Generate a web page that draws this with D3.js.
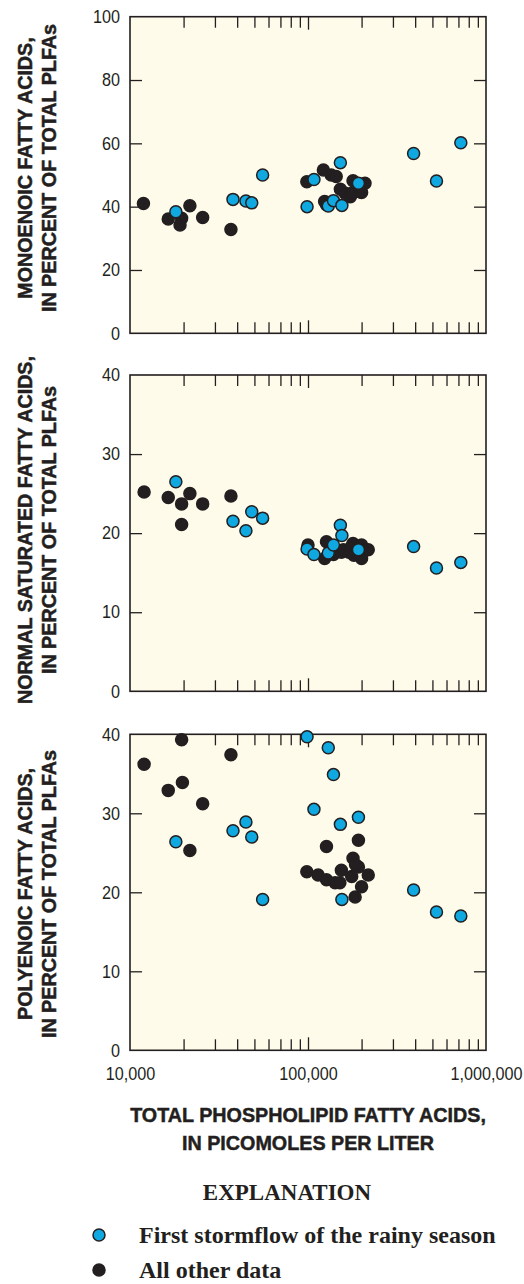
<!DOCTYPE html>
<html>
<head>
<meta charset="utf-8">
<script src="https://cdn.jsdelivr.net/npm/d3@7/dist/d3.min.js"></script>
<style>
  html, body { margin: 0; padding: 0; background: #ffffff; }
  svg { display: block; }
  .tick text { font-family: "Liberation Sans", Arial, sans-serif; font-size: 18px; fill: #231f20; }
  .ytitle, .xtitle { font-family: "Liberation Sans", Arial, sans-serif; font-weight: bold; fill: #231f20; stroke: #231f20; stroke-width: 0.5px; }
  .legend { font-family: "Liberation Serif", "Times New Roman", serif; font-weight: bold; fill: #231f20; }
</style>
</head>
<body>
<script>
// Total PLFA concentration (picomoles per liter) vs. percent composition of PLFAs

// Samples from the first stormflow of the rainy season: [total PLFA, percent]
const stormMono = [
  [18100, 38.4], [37900, 42.3], [44800, 41.8], [48300, 41.2], [55600, 50.0],
  [98800, 40.0], [108000, 48.6], [130000, 40.2], [139000, 41.9], [152000, 53.9],
  [155000, 40.4], [192000, 47.4], [392000, 56.8], [527000, 48.1], [722000, 60.2]
];
const stormSat = [
  [18100, 26.5], [37900, 21.5], [44800, 20.3], [48300, 22.7], [55600, 21.9],
  [98800, 18.0], [108000, 17.3], [130000, 17.5], [139000, 18.5], [152000, 21.0],
  [155000, 19.7], [192000, 17.9], [392000, 18.3], [527000, 15.6], [722000, 16.3]
];
const stormPoly = [
  [18100, 26.4], [37900, 27.8], [44800, 28.9], [48300, 27.0], [55600, 19.1],
  [98800, 39.7], [108000, 30.5], [130000, 38.3], [139000, 34.9], [152000, 28.6],
  [155000, 19.1], [192000, 29.5], [392000, 20.3], [527000, 17.5], [722000, 17.0]
];

// All other samples: [total PLFA, percent]
const otherMono = [
  [11900, 41.0], [16400, 36.1], [19500, 36.3], [19100, 34.2], [21700, 40.3],
  [25600, 36.6], [36900, 32.8], [98500, 47.9], [122000, 51.6], [135000, 50.0],
  [144000, 49.5], [124000, 41.6], [127000, 40.6], [152000, 45.5], [162000, 44.2],
  [173000, 43.1], [176000, 44.2], [179000, 48.2], [196000, 44.7], [209000, 47.4],
  [200000, 44.5]
];
const otherSat = [
  [12000, 25.2], [16400, 24.5], [19500, 23.7], [19500, 21.1], [21700, 25.0],
  [25600, 23.7], [36900, 24.7], [100000, 18.5], [127000, 18.9], [124000, 16.8],
  [139000, 17.3], [154000, 17.6], [158000, 17.9], [170000, 17.6], [179000, 18.7],
  [176000, 18.3], [188000, 18.1], [181000, 17.2], [200000, 18.5], [200000, 16.8],
  [212000, 17.9], [218000, 17.9]
];
const otherPoly = [
  [12000, 36.2], [16400, 32.9], [19500, 39.3], [19700, 33.9], [21700, 25.3],
  [25600, 31.2], [36900, 37.4], [98500, 22.6], [114000, 22.2], [127000, 21.6],
  [142000, 21.2], [151000, 21.2], [127000, 25.8], [154000, 22.8], [179000, 24.3],
  [192000, 23.2], [218000, 22.2], [200000, 20.7], [184000, 19.4], [176000, 22.0],
  [192000, 26.6], [185000, 23.5]
];

// Axis ticks and labels
const xMajorTicks = [1e4, 1e5, 1e6];
const xTickLabels = ["10,000", "100,000", "1,000,000"];
const monoTicks = [0, 20, 40, 60, 80, 100];
const pctTicks = [0, 10, 20, 30, 40];

const panelTitles = [
  ["MONOENOIC FATTY ACIDS,", "IN PERCENT OF TOTAL PLFAs"],
  ["NORMAL SATURATED FATTY ACIDS,", "IN PERCENT OF TOTAL PLFAs"],
  ["POLYENOIC FATTY ACIDS,", "IN PERCENT OF TOTAL PLFAs"]
];
const xTitle = ["TOTAL PHOSPHOLIPID FATTY ACIDS,", "IN PICOMOLES PER LITER"];
const legendTitle = "EXPLANATION";
const legendLabels = ["First stormflow of the rainy season", "All other data"];

// ---- drawing ----
const W = 524, H = 1284;
const INK = "#231f20", BLUE = "#0fa8e0", CREAM = "#fffbea";
const left = 130, right = 486;
const TICK_SX = 0.9;   // horizontal squeeze for a condensed look
const TITLE_SX = 0.94;

const svg = d3.select("body").append("svg").attr("width", W).attr("height", H);

const x = d3.scaleLog().domain([1e4, 1e6]).range([left, right]);
const allLogTicks = [];
for (const dec of [1e4, 1e5]) for (let m = 1; m <= 9; m++) allLogTicks.push(m * dec);
allLogTicks.push(1e6);

const panels = [
  { top: 16.7, bottom: 333.3, max: 100, ticks: monoTicks, storm: stormMono, other: otherMono, titleC: 168 },
  { top: 375, bottom: 691.3, max: 40, ticks: pctTicks, storm: stormSat, other: otherSat, titleC: 530 },
  { top: 734.3, bottom: 1050.3, max: 40, ticks: pctTicks, storm: stormPoly, other: otherPoly, titleC: 894 }
];

panels.forEach((p, i) => {
  const y = d3.scaleLinear().domain([0, p.max]).range([p.bottom, p.top]);
  const g = svg.append("g");

  g.append("rect")
    .attr("x", left).attr("y", p.top)
    .attr("width", right - left).attr("height", p.bottom - p.top)
    .attr("fill", CREAM);

  const inner = p.ticks.filter(t => t > 0 && t < p.max);
  const xInner = allLogTicks.filter(t => t > 1e4 && t < 1e6);
  const isLast = i === panels.length - 1;

  // bottom axis (ticks pointing inward)
  const bottomAxis = d3.axisBottom(x)
    .tickValues(isLast ? allLogTicks : xInner)
    .tickSizeInner(-11).tickSizeOuter(0).tickPadding(17)
    .tickFormat(d => {
      const k = xMajorTicks.indexOf(d);
      return isLast && k >= 0 ? xTickLabels[k] : "";
    });
  const gb = g.append("g").attr("transform", `translate(0,${p.bottom})`).call(bottomAxis);
  gb.selectAll(".tick line").filter(d => d <= 1e4 || d >= 1e6).remove();
  gb.selectAll(".tick line").filter(d => d === 1e5).attr("y2", -13);
  gb.selectAll(".tick text").attr("transform", `scale(${TICK_SX},1)`);

  const topAxis = d3.axisTop(x).tickValues(xInner)
    .tickSizeInner(-11).tickSizeOuter(0).tickFormat("");
  const gt = g.append("g").attr("transform", `translate(0,${p.top})`).call(topAxis);
  gt.selectAll(".tick line").filter(d => d === 1e5).attr("y2", 13);

  const leftAxis = d3.axisLeft(y).tickValues(p.ticks)
    .tickSizeInner(-12).tickSizeOuter(0).tickPadding(10);
  const gl = g.append("g").attr("transform", `translate(${left},0)`).call(leftAxis);
  gl.selectAll(".tick line").filter(d => d === 0 || d === p.max).remove();
  gl.selectAll(".tick text")
    .attr("x", -10 / TICK_SX)
    .attr("transform", `scale(${TICK_SX},1)`);

  const rightAxis = d3.axisRight(y).tickValues(inner)
    .tickSizeInner(-12).tickSizeOuter(0).tickFormat("");
  g.append("g").attr("transform", `translate(${right},0)`).call(rightAxis);

  g.selectAll(".domain").remove();
  g.selectAll(".tick line").attr("stroke", INK).attr("stroke-width", 1.3);

  g.append("rect")
    .attr("x", left).attr("y", p.top)
    .attr("width", right - left).attr("height", p.bottom - p.top)
    .attr("fill", "none").attr("stroke", INK).attr("stroke-width", 1.6);

  // points: other data first, stormflow on top
  g.append("g").selectAll("circle").data(p.other).join("circle")
    .attr("cx", d => x(d[0])).attr("cy", d => y(d[1])).attr("r", 6)
    .attr("fill", INK).attr("stroke", INK).attr("stroke-width", 1.5);
  g.append("g").selectAll("circle").data(p.storm).join("circle")
    .attr("cx", d => x(d[0])).attr("cy", d => y(d[1])).attr("r", 6)
    .attr("fill", BLUE).attr("stroke", INK).attr("stroke-width", 1.5);

  // rotated y title, two lines
  const t = svg.append("text").attr("class", "ytitle")
    .attr("transform", `translate(0,${p.titleC}) rotate(-90) scale(${TITLE_SX},1)`)
    .attr("text-anchor", "middle").attr("font-size", 21);
  t.append("tspan").attr("x", 0).attr("y", 32).text(panelTitles[i][0]);
  t.append("tspan").attr("x", 0).attr("y", 56.5).text(panelTitles[i][1]);
});

// x axis title
const xt = svg.append("text").attr("class", "xtitle")
  .attr("transform", `translate(308,0) scale(${TITLE_SX},1)`)
  .attr("text-anchor", "middle").attr("font-size", 21);
xt.append("tspan").attr("x", 0).attr("y", 1122).text(xTitle[0]);
xt.append("tspan").attr("x", 0).attr("y", 1150).text(xTitle[1]);

// legend
svg.append("text").attr("class", "legend")
  .attr("x", 287).attr("y", 1200).attr("text-anchor", "middle")
  .attr("font-size", 23).text(legendTitle);

const legendItems = [
  { fill: BLUE, cy: 1235, base: 1243, label: legendLabels[0] },
  { fill: INK, cy: 1270, base: 1278, label: legendLabels[1] }
];
const lg = svg.append("g").selectAll("g").data(legendItems).join("g");
lg.append("circle").attr("cx", 99).attr("cy", d => d.cy).attr("r", 6)
  .attr("fill", d => d.fill).attr("stroke", INK).attr("stroke-width", 1.5);
lg.append("text").attr("class", "legend").attr("x", 139).attr("y", d => d.base)
  .attr("font-size", 24).text(d => d.label);
</script>
</body>
</html>
